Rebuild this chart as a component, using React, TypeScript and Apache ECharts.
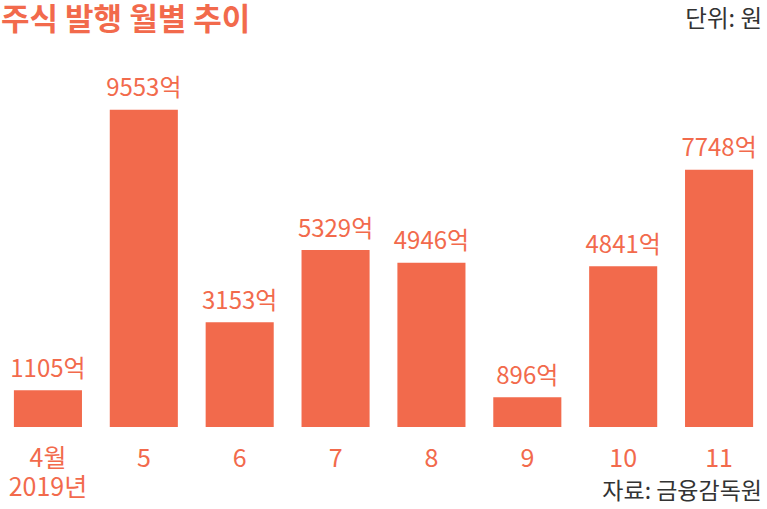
import React, { useEffect, useRef } from "react";
import * as echarts from "echarts";

const categories = ["4월\n2019년", "5", "6", "7", "8", "9", "10", "11"];
const values = [1105, 9553, 3153, 5329, 4946, 896, 4841, 7748];
const titleText = "주식 발행 월별 추이";
const unitText = "단위: 원";
const sourceText = "자료: 금융감독원";

const ORANGE = "#F26A4C";
const FONT = "'Noto Sans CJK KR', 'Noto Sans', sans-serif";

export default function App() {
  const ref = useRef<HTMLDivElement>(null);
  useEffect(() => {
    const chart = echarts.init(ref.current!, null, { renderer: "svg" });
    chart.setOption({
      animation: false,
      backgroundColor: "#ffffff",
      textStyle: { fontFamily: FONT },
      graphic: [
        {
          type: "text",
          left: 1,
          top: 1,
          style: { text: titleText, fill: ORANGE, font: `bold 31px ${FONT}` },
        },
        {
          type: "text",
          right: 5,
          top: 5,
          style: { text: unitText, fill: "#333333", font: `23.5px ${FONT}` },
        },
        {
          type: "text",
          right: 5,
          top: 477,
          style: { text: sourceText, fill: "#333333", font: `23px ${FONT}` },
        },
      ],
      grid: { left: -2, right: -3, top: 95, bottom: 82, containLabel: false },
      xAxis: {
        type: "category",
        data: categories,
        axisLine: { show: false },
        axisTick: { show: false },
        axisLabel: {
          interval: 0,
          color: ORANGE,
          fontSize: 25,
          fontFamily: FONT,
          margin: 14,
          lineHeight: 29,
        },
      },
      yAxis: {
        type: "value",
        min: 0,
        max: 10000,
        show: false,
        splitLine: { show: false },
      },
      series: [
        {
          type: "bar",
          data: values,
          barCategoryGap: "29%",
          itemStyle: { color: ORANGE },
          label: {
            show: true,
            position: "top",
            distance: 12,
            color: ORANGE,
            fontSize: 24,
            fontFamily: FONT,
            formatter: (p: any) => `${p.value}억`,
          },
        },
      ],
    });
    return () => chart.dispose();
  }, []);
  return (
    <div
      ref={ref}
      style={{ position: "absolute", left: 0, top: 0, width: 767, height: 509 }}
    />
  );
}
